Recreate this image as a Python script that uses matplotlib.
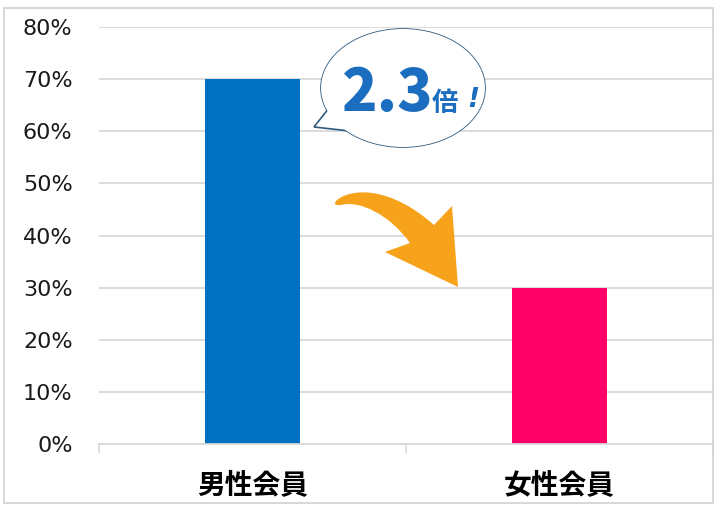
import numpy as np
import matplotlib.pyplot as plt
from matplotlib.patches import Ellipse, Polygon, PathPatch, Rectangle
from matplotlib.path import Path
from matplotlib.ticker import PercentFormatter, FixedLocator

# data
categories = ['男性会員', '女性会員']
shares = [0.70, 0.30]
bar_colors = ['#0070C0', '#FF0066']
y_ticks = [0.0, 0.1, 0.2, 0.3, 0.4, 0.5, 0.6, 0.7, 0.8]
ratio_label = '2.3'

plt.rcParams['font.family'] = ['DejaVu Sans', 'Noto Sans CJK JP']

W, H = 720, 511
fig = plt.figure(figsize=(W / 100, H / 100), dpi=100)
ax = fig.add_axes([99 / W, 67 / H, 614 / W, 417 / H])

x = np.arange(len(categories))
ax.bar(x, shares, width=0.31, color=bar_colors, zorder=2)
ax.set_xlim(-0.5, 1.5)
ax.set_ylim(0, 0.8)

ax.yaxis.set_major_locator(FixedLocator(y_ticks))
ax.yaxis.set_major_formatter(PercentFormatter(1.0, decimals=0))
ax.grid(axis='y', color='#d9d9d9', lw=1.3, zorder=0)
ax.set_axisbelow(True)
for s in ['top', 'right', 'left']:
    ax.spines[s].set_visible(False)
ax.spines['bottom'].set_color('#d9d9d9')
ax.spines['bottom'].set_linewidth(1.3)
ax.tick_params(axis='y', length=0, pad=19, labelsize=16, labelcolor='#1a1a1a')

ax.set_xticks(x)
ax.set_xticklabels(categories, fontsize=20, fontweight='bold',
                   family=['Noto Sans CJK JP', 'DejaVu Sans'])
ax.tick_params(axis='x', length=0, pad=20)
ax.set_xticks([-0.5, 0.5, 1.5], minor=True)
ax.tick_params(axis='x', which='minor', length=6.5, width=1.2, color='#d9d9d9')


def px(xp, yp):
    # pixel position in the picture -> data coords of the axes
    return ((xp - 99) / 307 - 0.5, (444 - yp) / 521.25)


# speech bubble
edge = '#2E5A7E'
ax.add_patch(Ellipse(px(403, 88), 164 / 307, 118 / 521.25, facecolor='white',
                     edgecolor=edge, lw=1.2, zorder=5))
ax.add_patch(Polygon([px(329, 108), px(314, 127), px(350, 131)], closed=True,
                     facecolor='white', edgecolor=edge, lw=1.2, zorder=6))
ax.add_patch(Ellipse(px(403, 88), 164 / 307, 118 / 521.25, facecolor='white',
                     edgecolor='none', zorder=7))

blue = '#1B6DBF'
ax.text(*px(387, 94), ratio_label, fontsize=42, fontweight='black',
        color=blue, ha='center', va='center', zorder=8,
        family=['Noto Sans CJK JP', 'DejaVu Sans'])
ax.text(*px(445, 103), '倍', fontsize=19, fontweight='bold',
        color=blue, ha='center', va='center', zorder=8,
        family=['Noto Sans CJK JP', 'DejaVu Sans'])
ax.text(*px(473, 100), '!', fontsize=19, fontweight='bold', style='italic',
        color=blue, ha='center', va='center', zorder=8)

# curved arrow (hand traced outline)
arrow_pts = [(337, 200),
             (352, 188), (390, 186), (434, 225),
             (452, 206), (458, 287), (385, 252), (410, 243),
             (390, 215), (360, 200), (341, 205),
             (331, 206), (337, 200),
             (337, 200)]
codes = [Path.MOVETO,
         Path.CURVE4, Path.CURVE4, Path.CURVE4,
         Path.LINETO, Path.LINETO, Path.LINETO, Path.LINETO,
         Path.CURVE4, Path.CURVE4, Path.CURVE4,
         Path.CURVE3, Path.CURVE3,
         Path.CLOSEPOLY]
arrow = PathPatch(Path([px(*p) for p in arrow_pts], codes),
                  facecolor='#F7A21B', edgecolor='none', zorder=4)
ax.add_patch(arrow)

# light frame round the whole chart
fig.patches.append(Rectangle((4 / W, 8 / H), 709 / W, 495 / H,
                             transform=fig.transFigure, fill=False,
                             edgecolor='#d4d4d4', lw=1.3))

fig.savefig('out.png', dpi=100)
